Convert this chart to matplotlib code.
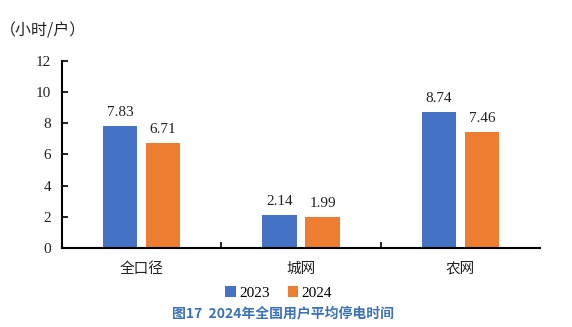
import matplotlib as mpl
import matplotlib.pyplot as plt
import numpy as np

mpl.rcParams['font.family'] = ['Liberation Serif', 'Noto Sans CJK SC']

categories = ["全口径", "城网", "农网"]
years = ["2023", "2024"]
hours_2023 = [7.83, 2.14, 8.74]
hours_2024 = [6.71, 1.99, 7.46]
colors = ["#4472C4", "#ED7D31"]

fig = plt.figure(figsize=(5.72, 3.27), dpi=100)
ax = fig.add_axes([0.1084, 0.2416, 0.8357, 0.572])

x = np.arange(len(categories))
w = 0.214
off = 0.135
b1 = ax.bar(x - off, hours_2023, w, color=colors[0], label=years[0])
b2 = ax.bar(x + off, hours_2024, w, color=colors[1], label=years[1])

for bars, vals in ((b1, hours_2023), (b2, hours_2024)):
    for rect, v in zip(bars, vals):
        ax.text(rect.get_x() + rect.get_width() / 2, v + 0.45, "%.2f" % v,
                ha="center", va="bottom", fontsize=11, color="#222222")

ax.set_xlim(-0.5, 2.5)
ax.set_ylim(0, 12)
ax.set_yticks(range(0, 13, 2))
ax.tick_params(axis="y", direction="in", length=4, width=1.2, labelsize=11, pad=8,
               labelcolor="#222222")
ax.set_xticks([0.5, 1.5])
ax.set_xticklabels([])
ax.set_xticks(x, minor=True)
ax.set_xticklabels(categories, minor=True, fontfamily="Noto Sans CJK SC", fontsize=10.5,
                   color="#222222")
ax.tick_params(axis="x", which="major", direction="in", length=4, width=1.2)
ax.tick_params(axis="x", which="minor", length=0, pad=10)

for s in ("top", "right"):
    ax.spines[s].set_visible(False)
for s in ("left", "bottom"):
    ax.spines[s].set_linewidth(1.5)

fig.text(0.0, 0.89, "（小时/户）", fontfamily="Noto Sans CJK SC", fontsize=11.5, color="#222222")

fig.legend(loc="center", bbox_to_anchor=(0.487, 0.105), ncol=2, frameon=False,
           fontsize=11, handlelength=0.7, handleheight=0.7, handletextpad=0.2,
           columnspacing=1.2)

fig.text(0.495, 0.042, "图17  2024年全国用户平均停电时间", ha="center", va="center",
         fontfamily="Noto Sans CJK SC", fontsize=10, fontweight="bold", color="#3C72B8")

fig.savefig("out.png", dpi=100)
